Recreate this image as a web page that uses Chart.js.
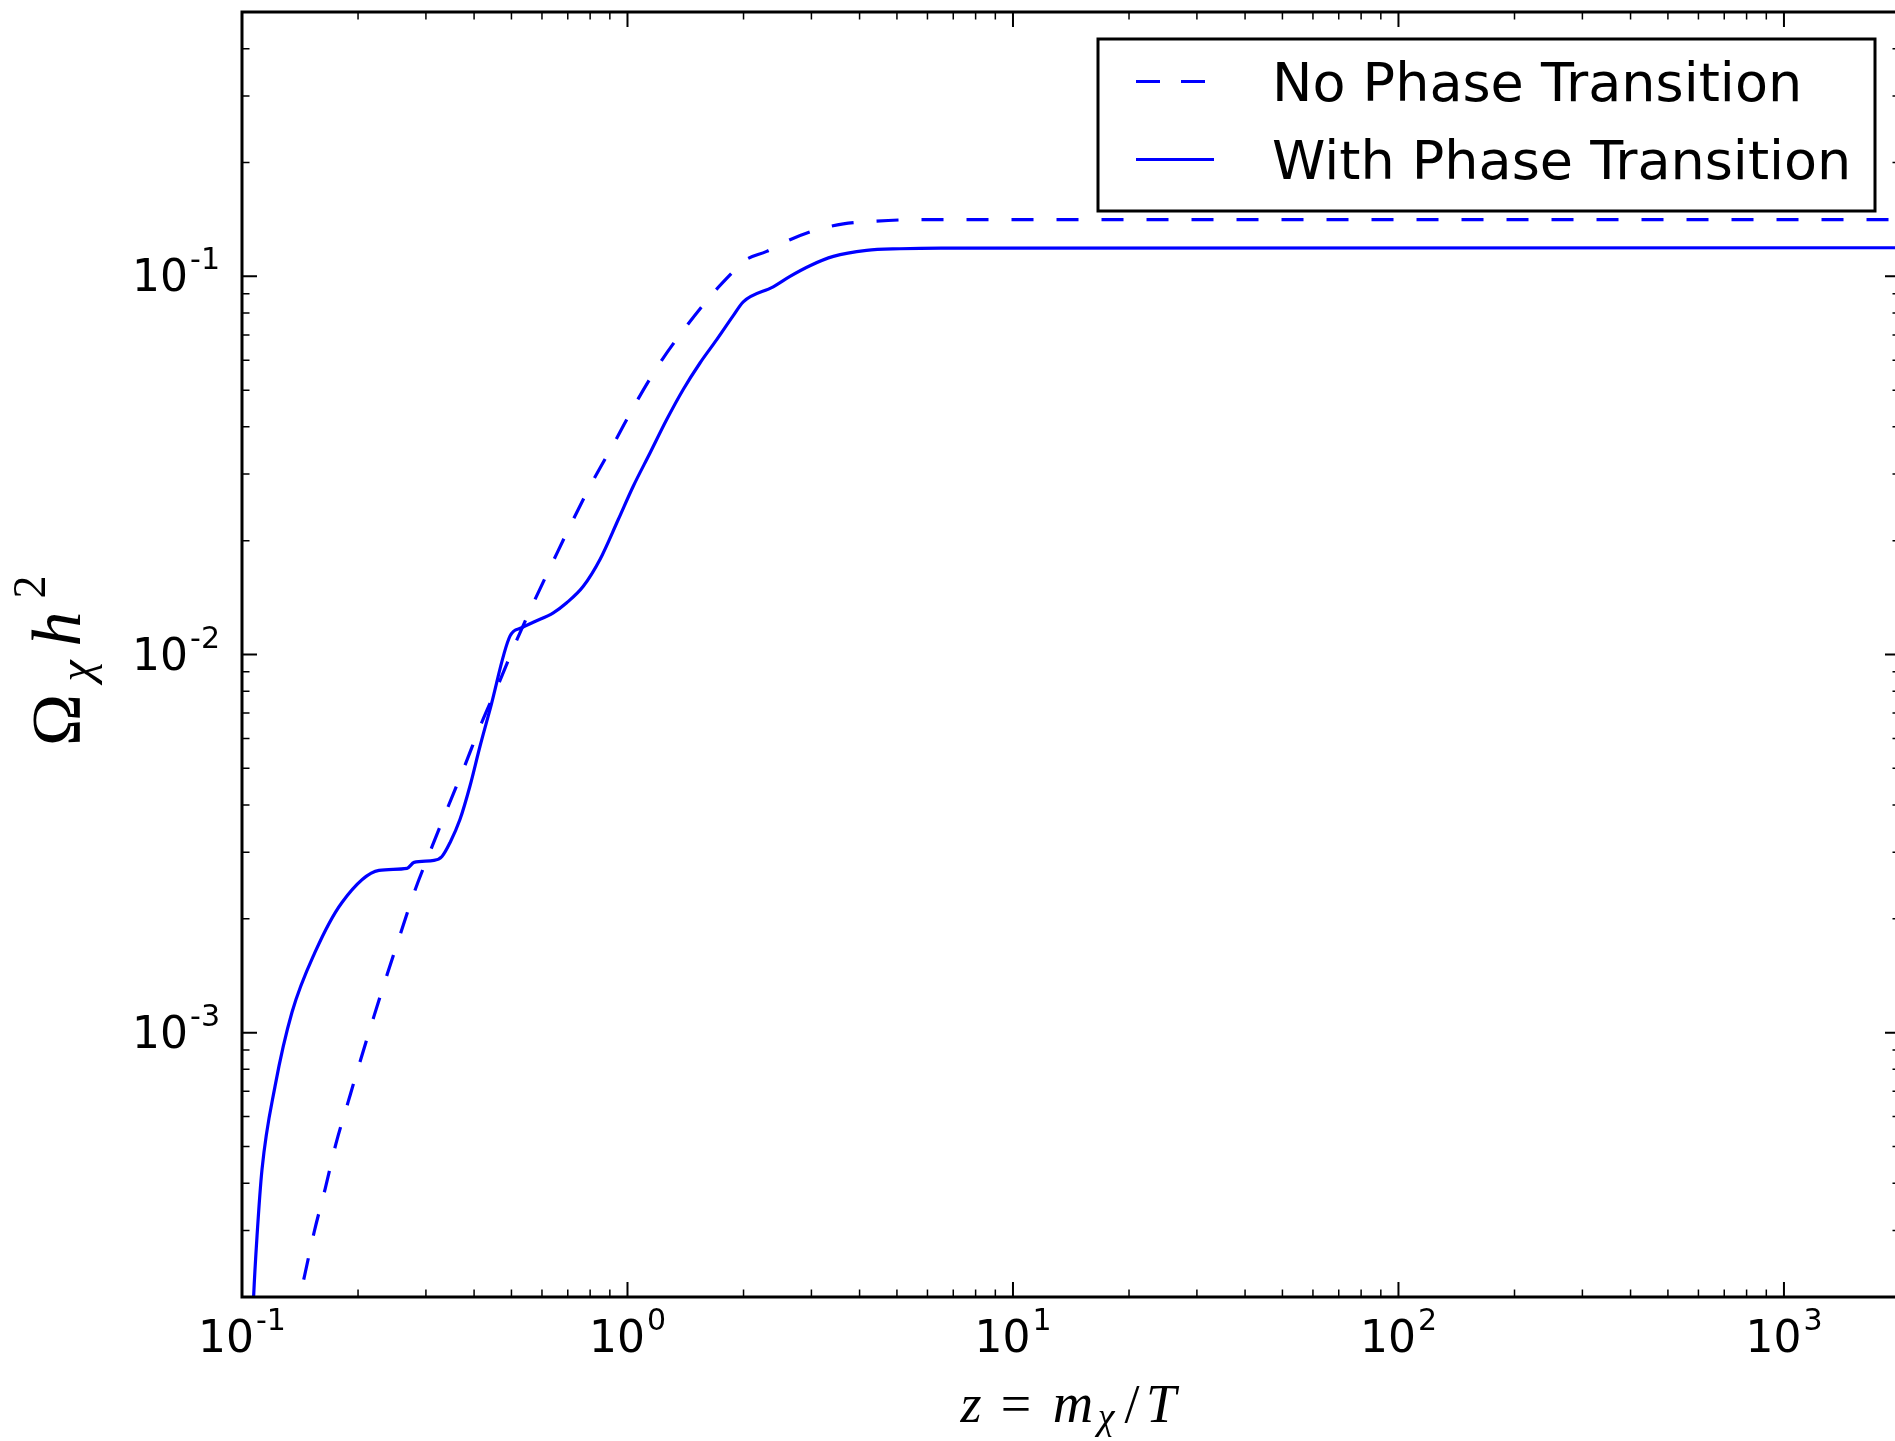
<!DOCTYPE html>
<html lang="en">
<head>
    <meta charset="UTF-8">
    <title>Relic density vs z</title>
    <script src="https://cdn.jsdelivr.net/npm/chart.js"></script>
    <style>
        html, body {
            margin: 0;
            padding: 0;
            background: #fff;
            overflow: hidden;
        }
        #wrap {
            width: 1895px;
            height: 1441px;
            overflow: hidden;
        }
    </style>
</head>
<body>
    <div id="wrap"><canvas id="relic" width="1910" height="1441"></canvas></div>

    <script>
        // z = m_chi / T
        const zNoPT = [0.1365, 0.1455, 0.154, 0.1644, 0.1753, 0.1886, 0.2033, 0.2197, 0.2384, 0.2588,
            0.2815, 0.3083, 0.3428, 0.3789, 0.4184, 0.4642, 0.516, 0.5755, 0.6446, 0.7232,
            0.8039, 0.928, 1.0566, 1.214, 1.41, 1.67, 1.92, 1.997, 2.297, 2.64,
            3.096, 3.63, 4.34, 5.63, 2000];
        const omegaNoPT = [1.7e-4, 2.29e-4, 2.98e-4, 3.87e-4, 5.09e-4, 6.57e-4, 8.51e-4, 1.101e-3, 1.433e-3, 1.851e-3,
            2.392e-3, 3.033e-3, 3.97e-3, 5.10e-3, 6.60e-3, 8.42e-3, 1.091e-2, 1.397e-2, 1.783e-2, 2.275e-2,
            2.814e-2, 3.66e-2, 4.67e-2, 5.90e-2, 7.30e-2, 9.04e-2, 0.1052, 0.1096, 0.1164, 0.125,
            0.1328, 0.1376, 0.1398, 0.1412, 0.1413];

        const zWithPT = [0.1064, 0.1072, 0.1094, 0.1127, 0.1218, 0.1348, 0.1546, 0.1817, 0.2267, 0.268,
            0.2794, 0.3148, 0.3302, 0.3464, 0.3676, 0.3903, 0.4144, 0.4398, 0.4956, 0.5316,
            0.5696, 0.642, 0.6956, 0.768, 0.8485, 0.9465, 1.035, 1.144, 1.264, 1.395,
            1.542, 1.704, 1.881, 1.997, 2.388, 2.64, 2.974, 3.42, 4.17, 5.09,
            6.5, 2000];
        const omegaWithPT = [1.64e-4, 2.01e-4, 2.90e-4, 4.35e-4, 7.21e-4, 1.132e-3, 1.63e-3, 2.21e-3, 2.686e-3, 2.72e-3,
            2.82e-3, 2.854e-3, 2.924e-3, 3.18e-3, 3.66e-3, 4.49e-3, 5.72e-3, 7.15e-3, 1.118e-2, 1.177e-2,
            1.217e-2, 1.289e-2, 1.37e-2, 1.515e-2, 1.783e-2, 2.275e-2, 2.786e-2, 3.41e-2, 4.18e-2, 5.02e-2,
            5.90e-2, 6.80e-2, 7.87e-2, 8.56e-2, 9.38e-2, 0.100, 0.1067, 0.1129, 0.1171, 0.1183,
            0.1188, 0.119];

        const seriesLabels = ['No Phase Transition', 'With Phase Transition'];
        const xMajorTicks = [0.1, 1, 10, 100, 1000];
        const yMajorTicks = [1e-3, 1e-2, 1e-1];
        const xRange = [0.1, 2000];
        const yRange = [2e-4, 0.5];

        const BLUE = '#0000ff';
        const SANS = '"DejaVu Sans", sans-serif';
        const SERIF = '"Liberation Serif", serif';

        function toPoints(xs, ys) {
            return xs.map((v, i) => ({ x: v, y: ys[i] }));
        }

        // minor ticks 2..9 x 10^n inside the range
        function minorTicks(min, max) {
            const out = [];
            for (let e = Math.floor(Math.log10(min)); e <= Math.ceil(Math.log10(max)); e++) {
                for (let k = 2; k <= 9; k++) {
                    const v = k * Math.pow(10, e);
                    if (v > min * 1.0001 && v < max * 0.9999) out.push(v);
                }
            }
            return out;
        }

        // "10" with a raised exponent, like matplotlib
        function powLabel(ctx, exp, x, y, align) {
            ctx.font = '44px ' + SANS;
            const wb = ctx.measureText('10').width;
            ctx.font = '30px ' + SANS;
            const we = ctx.measureText(exp).width;
            const total = wb + 2 + we;
            const left = align === 'center' ? x - total / 2 : x - total;
            ctx.textAlign = 'left';
            ctx.textBaseline = 'alphabetic';
            ctx.font = '44px ' + SANS;
            ctx.fillText('10', left, y);
            ctx.font = '30px ' + SANS;
            ctx.fillText(exp, left + wb + 2, y - 22);
        }

        function glyph(ctx, txt, font, cx, baseY) {
            ctx.font = font;
            ctx.textAlign = 'center';
            ctx.textBaseline = 'alphabetic';
            ctx.fillText(txt, cx, baseY);
        }

        const framePlugin = {
            id: 'frame',
            afterDatasetsDraw(chart) {
                const { ctx, chartArea: a, scales } = chart;
                const xs = scales.x, ys = scales.y;
                ctx.save();
                ctx.strokeStyle = '#000';
                ctx.fillStyle = '#000';

                // inward ticks on all four sides
                const drawX = (v, len) => {
                    const px = xs.getPixelForValue(v);
                    ctx.beginPath();
                    ctx.moveTo(px, a.bottom); ctx.lineTo(px, a.bottom - len);
                    ctx.moveTo(px, a.top); ctx.lineTo(px, a.top + len);
                    ctx.stroke();
                };
                const drawY = (v, len) => {
                    const py = ys.getPixelForValue(v);
                    ctx.beginPath();
                    ctx.moveTo(a.left, py); ctx.lineTo(a.left + len, py);
                    ctx.moveTo(a.right, py); ctx.lineTo(a.right - len, py);
                    ctx.stroke();
                };
                ctx.lineWidth = 1.5;
                minorTicks(xRange[0], xRange[1]).forEach(v => drawX(v, 7.5));
                minorTicks(yRange[0], yRange[1]).forEach(v => drawY(v, 7.5));
                ctx.lineWidth = 2;
                xMajorTicks.forEach(v => drawX(v, 15));
                yMajorTicks.forEach(v => drawY(v, 15));

                // spines
                ctx.lineWidth = 3;
                ctx.strokeRect(a.left, a.top, a.right - a.left, a.bottom - a.top);

                // tick labels
                xMajorTicks.forEach(v => {
                    powLabel(ctx, String(Math.round(Math.log10(v))), xs.getPixelForValue(v), a.bottom + 55, 'center');
                });
                yMajorTicks.forEach(v => {
                    powLabel(ctx, String(Math.round(Math.log10(v))), a.left - 22, ys.getPixelForValue(v) + 15, 'right');
                });

                // x title: z = m_chi / T
                const cx = (a.left + a.right) / 2;
                const xb = a.bottom + 125;
                glyph(ctx, 'z', 'italic 54px ' + SERIF, cx - 100, xb);
                glyph(ctx, '=', '54px ' + SERIF, cx - 55, xb);
                glyph(ctx, 'm', 'italic 56px ' + SERIF, cx + 2, xb);
                glyph(ctx, 'χ', 'italic 38px ' + SERIF, cx + 35, xb + 7);
                glyph(ctx, '/', '54px ' + SERIF, cx + 61, xb);
                glyph(ctx, 'T', 'italic 54px ' + SERIF, cx + 90, xb);

                // y title: Omega_chi h^2, rotated
                ctx.save();
                ctx.translate(80, 742);
                ctx.rotate(-Math.PI / 2);
                glyph(ctx, 'Ω', '70px ' + SERIF, 22, 0);
                glyph(ctx, 'χ', 'italic 48px ' + SERIF, 71, 12);
                glyph(ctx, 'h', 'italic 70px ' + SERIF, 113, 0);
                glyph(ctx, '2', '46px ' + SERIF, 155, -35);
                ctx.restore();

                // legend box
                const lx = 1098, ly = 39, lw = 777, lh = 172;
                ctx.fillStyle = '#fff';
                ctx.fillRect(lx, ly, lw, lh);
                ctx.strokeStyle = '#000';
                ctx.lineWidth = 3;
                ctx.strokeRect(lx, ly, lw, lh);
                const rows = [
                    { y: 81.5, x1: 1205, ds: chart.data.datasets[0] },
                    { y: 159.5, x1: 1214, ds: chart.data.datasets[1] }
                ];
                rows.forEach(r => {
                    ctx.beginPath();
                    ctx.strokeStyle = r.ds.borderColor;
                    ctx.lineWidth = r.ds.borderWidth;
                    ctx.setLineDash(r.ds.borderDash && r.ds.borderDash.length ? [24, 21] : []);
                    ctx.moveTo(1136, r.y);
                    ctx.lineTo(r.x1, r.y);
                    ctx.stroke();
                    ctx.setLineDash([]);
                    ctx.fillStyle = '#000';
                    ctx.font = '54px ' + SANS;
                    ctx.textAlign = 'left';
                    ctx.textBaseline = 'alphabetic';
                    ctx.fillText(r.ds.label, 1272, r.y + 19);
                });

                ctx.restore();
            }
        };

        const chart = new Chart(document.getElementById('relic').getContext('2d'), {
            type: 'line',
            data: {
                datasets: [{
                    label: seriesLabels[0],
                    data: toPoints(zNoPT, omegaNoPT),
                    borderColor: BLUE,
                    borderWidth: 3.2,
                    borderDash: [22, 23],
                    pointRadius: 0,
                    fill: false,
                    cubicInterpolationMode: 'monotone'
                }, {
                    label: seriesLabels[1],
                    data: toPoints(zWithPT, omegaWithPT),
                    borderColor: BLUE,
                    borderWidth: 3.2,
                    pointRadius: 0,
                    fill: false,
                    cubicInterpolationMode: 'monotone'
                }]
            },
            options: {
                responsive: false,
                animation: false,
                devicePixelRatio: 1,
                layout: {
                    padding: { left: 242, top: 12, right: 10, bottom: 144 }
                },
                scales: {
                    x: { type: 'logarithmic', min: xRange[0], max: xRange[1], display: false },
                    y: { type: 'logarithmic', min: yRange[0], max: yRange[1], display: false }
                },
                plugins: {
                    legend: { display: false },
                    tooltip: { enabled: false }
                }
            },
            plugins: [framePlugin]
        });
    </script>
</body>
</html>
